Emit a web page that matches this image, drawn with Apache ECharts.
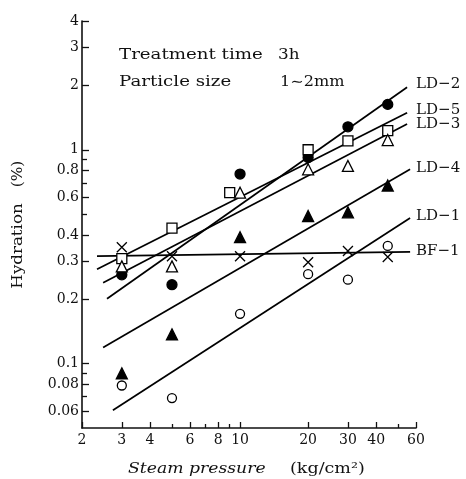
<!DOCTYPE html>
<html><head><meta charset="utf-8">
<script src="https://cdn.jsdelivr.net/npm/echarts@6/dist/echarts.min.js"></script>
<style>html,body{margin:0;padding:0;background:#fff}#c{width:466px;height:479px}</style>
</head><body><div id="c"></div>
<script>
// ---- data (steam pressure kg/cm2 vs hydration %) ----
const pressure = [3, 5, 10, 20, 30, 45];
const pressureLD5 = [3, 5, 9, 20, 30, 45];
const ld2 = [0.26, 0.234, 0.77, 0.92, 1.28, 1.63];
const ld5 = [0.31, 0.43, 0.63, 1.0, 1.10, 1.23];
const ld3 = [0.285, 0.285, 0.63, 0.81, 0.84, 1.11];
const ld4 = [0.09, 0.137, 0.39, 0.49, 0.51, 0.68];
const ld1 = [0.079, 0.069, 0.171, 0.262, 0.247, 0.355];
const bf1 = [0.35, 0.318, 0.318, 0.298, 0.336, 0.315];

// fitted lines: start / end (pressure, hydration)
const fitNames = ['LD\u22122', 'LD\u22125', 'LD\u22123', 'LD\u22124', 'LD\u22121', 'BF\u22121'];
const fitX0 = [2.58, 2.33, 2.48, 2.48, 2.74, 2.33];
const fitY0 = [0.201, 0.276, 0.239, 0.119, 0.0605, 0.318];
const fitX1 = [54.8, 54.8, 54.8, 56.5, 56.5, 56.5];
const fitY1 = [1.96, 1.49, 1.32, 0.81, 0.48, 0.333];

// axis ticks
const xMin = 2, xMax = 60, yMin = 0.05, yMax = 4;
const xMajorTicks = [2, 3, 4, 6, 8, 10, 20, 30, 40, 60];
const xMinorTicks = [5, 7, 9, 50];
const xLabels = [2, 3, 4, 6, 8, 10, 20, 30, 40, 60];
const yMajorTicks = [0.06, 0.08, 0.1, 0.2, 0.3, 0.4, 0.6, 0.8, 1, 2, 3, 4];
const yMinorTicks = [0.07, 0.09, 0.5, 0.7, 0.9];
const yLabels = [0.06, 0.08, 0.1, 0.2, 0.3, 0.4, 0.6, 0.8, 1, 2, 3, 4];

// ---- chart ----
const FONT = '"DejaVu Serif", "Liberation Serif", serif';
const INK = '#111';
const L = Math.log10;
const fmt = v => String(parseFloat(Math.pow(10, v).toPrecision(3)));

function pairs(xs, ys) { return xs.map((x, i) => [x, ys[i]]); }

const chart = echarts.init(document.getElementById('c'), null, {renderer: 'canvas'});

function companion(dim, pos, lo, hi, ticks, labels, len, showLine) {
  return {
    type: 'value', position: pos, min: L(lo), max: L(hi),
    axisLine: {show: showLine, onZero: false, lineStyle: {color: INK, width: 1.6}},
    axisTick: {show: true, inside: true, length: len, customValues: ticks.map(L),
               lineStyle: {color: INK, width: 1.3}},
    axisLabel: labels ? {show: true, customValues: labels.map(L), formatter: fmt,
               fontFamily: FONT, fontSize: 14, color: INK, margin: dim === 'x' ? 5 : 3} : {show: false},
    splitLine: {show: false}, silent: true
  };
}

const markerDefs = [
  {name: 'LD-2', xs: pressure, ys: ld2, symbol: 'circle', size: 10, fill: '#000'},
  {name: 'LD-5', xs: pressureLD5, ys: ld5, symbol: 'rect', size: 10, fill: '#fff'},
  {name: 'LD-3', xs: pressure, ys: ld3, symbol: 'triangle', size: 11, fill: '#fff'},
  {name: 'LD-4', xs: pressure, ys: ld4, symbol: 'triangle', size: 11, fill: '#000'},
  {name: 'LD-1', xs: pressure, ys: ld1, symbol: 'circle', size: 9, fill: '#fff'},
  {name: 'BF-1', xs: pressure, ys: bf1, symbol: 'path://M0,0L10,10M10,0L0,10', size: 10, fill: 'rgba(0,0,0,0)'}
];

const labelDist = [9, 9, 9, 6, 6, 6];
const labelOff = [-3, -3, 0, -1, -2, -1];

const series = [];
fitNames.forEach((n, i) => {
  series.push({
    type: 'line', name: n, xAxisIndex: 0, yAxisIndex: 0, z: 2,
    data: [[fitX0[i], fitY0[i]], [fitX1[i], fitY1[i]]],
    symbol: 'none', silent: true,
    lineStyle: {color: '#000', width: 1.7},
    endLabel: {show: true, formatter: n, distance: labelDist[i], offset: [0, labelOff[i]],
               fontFamily: FONT, fontSize: 15, color: INK}
  });
});
markerDefs.forEach(m => {
  series.push({
    type: 'scatter', name: m.name, xAxisIndex: 0, yAxisIndex: 0, z: 4,
    data: pairs(m.xs, m.ys), symbol: m.symbol, symbolSize: m.size,
    itemStyle: {color: m.fill, borderColor: '#000', borderWidth: 1.3, opacity: 1}
  });
});

function txt(x, y, text, opts) {
  opts = opts || {};
  return {
    type: 'text', x: x, y: y, silent: true,
    rotation: opts.rot || 0, scaleX: opts.sx || 1,
    style: {text: text, font: (opts.italic ? 'italic ' : '') + (opts.size || 14) + 'px ' + FONT,
            fill: INK, align: opts.align || 'left', textAlign: opts.align || 'left',
            verticalAlign: 'middle', textVerticalAlign: 'middle'}
  };
}

chart.setOption({
  animation: false,
  backgroundColor: '#fff',
  grid: {left: 82, right: 50, top: 21, bottom: 51, containLabel: false, outerBoundsMode: 'none'},
  xAxis: [
    {type: 'log', min: xMin, max: xMax, show: false},
    companion('x', 'bottom', xMin, xMax, xMajorTicks, xLabels, 6, true),
    companion('x', 'bottom', xMin, xMax, xMinorTicks, null, 4, false)
  ],
  yAxis: [
    {type: 'log', min: yMin, max: yMax, show: false},
    companion('y', 'left', yMin, yMax, yMajorTicks, yLabels, 7, true),
    companion('y', 'left', yMin, yMax, yMinorTicks, null, 5, false)
  ],
  series: series,
  graphic: [
    txt(119, 55, 'Treatment time', {sx: 1.3}),
    txt(278, 55, '3h', {sx: 1.2}),
    txt(119, 82, 'Particle size', {sx: 1.3}),
    txt(280, 82, '1\u223C2mm', {sx: 1.15}),
    txt(128, 469, 'Steam pressure', {sx: 1.23, italic: true}),
    txt(290, 469, '(kg/cm\u00B2)', {sx: 1.25}),
    txt(18, 246, 'Hydration', {rot: Math.PI / 2, sx: 1.19, align: 'center'}),
    txt(18, 174, '(%)', {rot: Math.PI / 2, sx: 1.1, align: 'center'})
  ]
});
</script>
</body></html>
